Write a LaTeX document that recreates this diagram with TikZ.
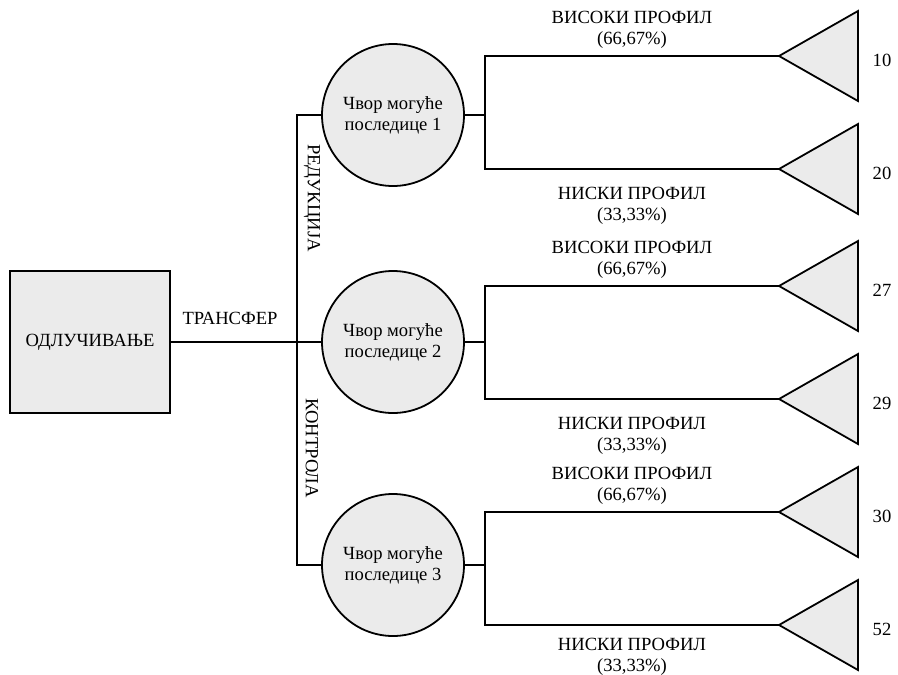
\documentclass[tikz,border=0pt]{standalone}
\usepackage{fontspec}
\setmainfont{Liberation Serif}
\definecolor{nodegray}{HTML}{EBEBEB}
\begin{document}
\begin{tikzpicture}[x=1pt,y=-1pt,line width=1.8pt,
  every node/.style={font=\fontsize{18.6}{21}\selectfont, inner sep=0pt},
  decbox/.style={draw, fill=nodegray, minimum width=160pt, minimum height=142pt},
  chance/.style={circle, draw, fill=nodegray, minimum size=142pt, align=center},
  leaf/.style={draw, fill=nodegray, line join=miter},
  lbl/.style={align=center},
  conn/.style={draw, line join=miter}]
\useasboundingbox (0,0) rectangle (898,675);

% decision box
\node[decbox] (d) at (90,342) {\raisebox{-3pt}{ОДЛУЧИВАЊЕ}};
\coordinate (j) at (297,342);

% chance nodes
\node[chance] (c1) at (393,115) {Чвор могуће\\последице 1};
\node[chance] (c2) at (393,342) {Чвор могуће\\последице 2};
\node[chance] (c3) at (393,565) {Чвор могуће\\последице 3};

\draw[conn] (d.east) -- (j);
\draw[conn] (c1.west) -| (j);
\draw[conn] (c2.west) -- (j);
\draw[conn] (c3.west) -| (j);

\node (tr) at (230,318) {ТРАНСФЕР};
\node[rotate=-90] (red) at (312,198) {РЕДУКЦИЈА};
\node[rotate=-90] (kon) at (312,448) {КОНТРОЛА};

% branch points and leaves
\coordinate (r1) at (485,115);
\coordinate (r2) at (485,342);
\coordinate (r3) at (485,565);
\coordinate (t1) at (779,56);
\coordinate (t2) at (779,169);
\coordinate (t3) at (779,286);
\coordinate (t4) at (779,399);
\coordinate (t5) at (779,512);
\coordinate (t6) at (779,625);

\draw[conn] (c1.east) -- (r1);
\draw[conn] (c2.east) -- (r2);
\draw[conn] (c3.east) -- (r3);
\draw[conn] (t1) -| (r1) |- (t2);
\draw[conn] (t3) -| (r2) |- (t4);
\draw[conn] (t5) -| (r3) |- (t6);

\foreach \t in {t1,t2,t3,t4,t5,t6}
  \draw[leaf] (\t) -- ++(79,-45) -- ++(0,90) -- cycle;

% branch labels
\node[lbl] (h1) at (632,30) {ВИСОКИ ПРОФИЛ\\(66,67\%)};
\node[lbl] (l1) at (632,206) {НИСКИ ПРОФИЛ\\(33,33\%)};
\node[lbl] (h2) at (632,260) {ВИСОКИ ПРОФИЛ\\(66,67\%)};
\node[lbl] (l2) at (632,436) {НИСКИ ПРОФИЛ\\(33,33\%)};
\node[lbl] (h3) at (632,486) {ВИСОКИ ПРОФИЛ\\(66,67\%)};
\node[lbl] (l3) at (632,657) {НИСКИ ПРОФИЛ\\(33,33\%)};

% payoffs
\node (v1) at (882,60) {10};
\node (v2) at (882,173) {20};
\node (v3) at (882,290) {27};
\node (v4) at (882,403) {29};
\node (v5) at (882,516) {30};
\node (v6) at (882,629) {52};
\end{tikzpicture}
\end{document}
